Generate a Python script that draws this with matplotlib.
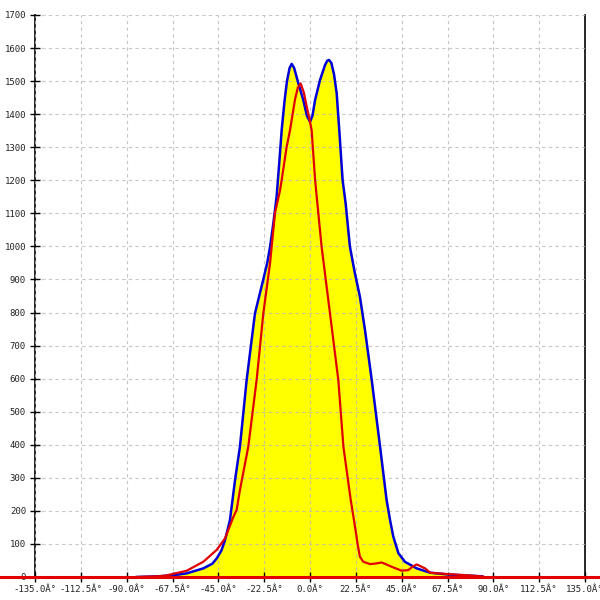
import matplotlib
matplotlib.use("Agg")
import matplotlib.pyplot as plt

# Envelope (blue, yellow filled)
blue_x = [-85, -75, -67.5, -60.5, -52.4, -48.0, -45.8, -43.5, -41.7, -39.3, -36.8, -34.4,
          -31.1, -27.0, -23.0, -21.0, -19.6, -18.0, -16.4, -15.0, -13.9, -12.5, -11.3,
          -10.0, -9.0, -7.8, -5.7, -3.3, -1.5, 0.0, 1.2, 2.5, 4.9, 7.4, 8.5, 9.3, 10.5,
          11.8, 13.1, 14.5, 16.0, 17.5, 19.6, 22.0, 24.5, 27.0, 30.3, 34.4, 37.6, 39.3,
          40.9, 43.4, 46.6, 52.4, 59.0, 67.0, 75.0, 84.5]
blue_y = [0, 2, 5, 11, 26, 40, 56, 80, 112, 172, 293, 394,
          596, 798, 898, 950, 999, 1070, 1150, 1260, 1352, 1440, 1500,
          1540, 1552, 1540, 1493, 1443, 1395, 1377, 1395, 1443, 1503, 1549, 1562, 1564, 1555,
          1520, 1463, 1340, 1201, 1130, 999, 920, 848, 747, 596, 394, 233, 172,
          122, 72, 46, 26, 13, 8, 5, 2]

# Second series (red)
red_x = [-85, -75, -71, -60.5, -52.4, -45.8, -41.7, -37.6, -36.0, -34.4, -30.3, -26.2,
         -22.9, -19.6, -17.2, -14.7, -13.9, -11.5, -9.8, -7.4, -6.0, -4.6, -3.0, -1.6,
         0.0, 0.8, 2.5, 3.3, 5.7, 9.8, 13.9, 16.4, 18.5, 20.0, 22.1, 23.5, 24.5, 26.2,
         29.5, 32.5, 35.2, 40.1, 45.0, 48.3, 50.5, 52.4, 56.5, 59.0, 67.0, 75.0, 82.0, 85.0]
red_y = [0, 2, 4, 19, 46, 82, 117, 182, 203, 263, 394, 596,
         798, 950, 1101, 1170, 1201, 1300, 1352, 1443, 1480, 1493, 1465, 1423,
         1377, 1352, 1201, 1150, 999, 798, 596, 394, 300, 233, 152, 95, 61, 46,
         39, 41, 44, 31, 19, 21, 32, 38, 26, 13, 9, 6, 3, 1]

x_ticks = [-135.0, -112.5, -90.0, -67.5, -45.0, -22.5, 0.0, 22.5, 45.0, 67.5, 90.0, 112.5, 135.0]
x_labels = ["-135.0Â°", "-112.5Â°", "-90.0Â°", "-67.5Â°", "-45.0Â°", "-22.5Â°", "0.0Â°",
            "22.5Â°", "45.0Â°", "67.5Â°", "90.0Â°", "112.5Â°", "135.0Â°"]
y_ticks = list(range(0, 1800, 100))

fig = plt.figure(figsize=(6, 6), dpi=100)
ax = fig.add_axes([35/600, 1 - 577/600, 550/600, 562/600])

ax.fill_between(blue_x, blue_y, 0, color="#ffff00", linewidth=0, zorder=1)
ax.plot(blue_x, blue_y, color="#0000d8", linewidth=1.8, zorder=3, solid_joinstyle="round")
ax.plot(red_x, red_y, color="#e00000", linewidth=1.6, zorder=4, solid_joinstyle="round")
ax.plot([-160, 160], [0, 0], color="#e00000", linewidth=2.2, zorder=5, clip_on=False)

ax.set_xlim(-135, 135)
ax.set_ylim(0, 1700)
ax.set_xticks(x_ticks)
ax.set_xticklabels(x_labels)
ax.set_yticks(y_ticks)
ax.set_yticklabels([str(v) for v in y_ticks])

ax.set_axisbelow(False)
ax.grid(True, color="#b8b8b8", linestyle=(0, (3, 3)), linewidth=0.8, alpha=0.8)
for gl in ax.get_xgridlines() + ax.get_ygridlines():
    gl.set_zorder(2)

for lab in ax.get_xticklabels() + ax.get_yticklabels():
    lab.set_family("DejaVu Sans Mono")
    lab.set_fontsize(6.5)
    lab.set_color("#222222")

ax.tick_params(axis="both", direction="inout", length=7, width=1, color="black")
ax.tick_params(axis="y", pad=3)
ax.tick_params(axis="x", pad=2)

ax.spines["top"].set_visible(False)
for s in ["left", "right", "bottom"]:
    ax.spines[s].set_color("black")
    ax.spines[s].set_linewidth(1.2)

fig.savefig("out.png", dpi=100)
